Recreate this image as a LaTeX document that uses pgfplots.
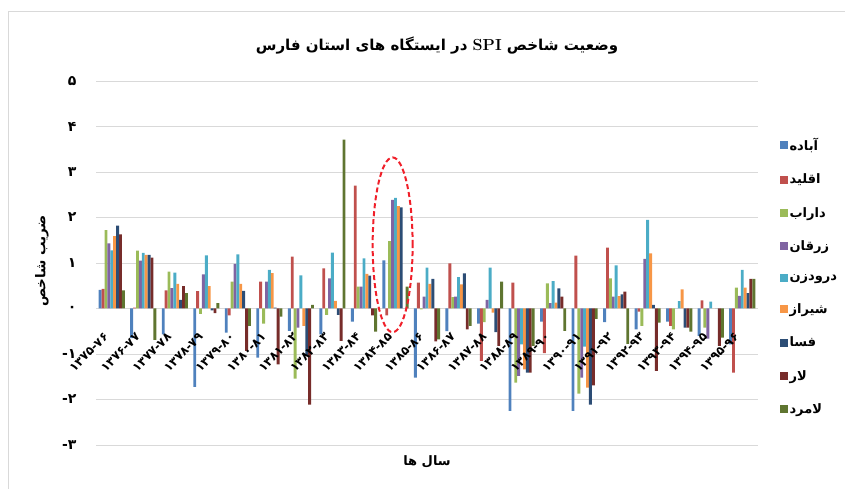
\documentclass[border=0pt]{standalone}
\usepackage{fontspec}
\usepackage{pgfplots}
\pgfplotsset{compat=1.18}
\usepackage{pgfplotstable}
\TeXXeTstate=1
\newfontfamily\arabicfont[Script=Arabic]{DejaVu Sans}
\definecolor{c1}{HTML}{4F81BD}
\definecolor{c2}{HTML}{C0504D}
\definecolor{c3}{HTML}{9BBB59}
\definecolor{c4}{HTML}{8064A2}
\definecolor{c5}{HTML}{4BACC6}
\definecolor{c6}{HTML}{F79646}
\definecolor{c7}{HTML}{2C4D75}
\definecolor{c8}{HTML}{772C2A}
\definecolor{c9}{HTML}{5F7530}
\definecolor{ellred}{HTML}{F0202A}
\pgfplotsset{
  layers/labelsontop/.define layer set={
    axis background,axis grid,axis ticks,axis lines,pre main,main,axis tick labels,axis descriptions,axis foreground
  }{/pgfplots/layers/standard},
}

\pgfplotstableread{
x a b c d e f g h i
1 0.41 0.43 1.72 1.43 1.28 1.59 1.82 1.63 0.40
2 -0.65 0.02 1.27 1.05 1.22 1.18 1.18 1.12 -0.69
3 -0.57 0.40 0.81 0.45 0.79 0.54 0.19 0.49 0.34
4 -1.72 0.38 -0.12 0.75 1.17 0.49 -0.04 -0.10 0.12
5 -0.53 -0.15 0.59 0.98 1.19 0.54 0.39 -0.93 -0.38
6 -1.08 0.59 -0.33 0.59 0.85 0.78 0.02 -1.23 -0.18
7 -0.49 1.14 -1.54 -0.42 0.73 -0.38 -1.04 -2.11 0.08
8 -0.57 0.88 -0.14 0.66 1.23 0.17 -0.14 -0.71 3.71
9 -0.29 2.70 0.48 0.48 1.10 0.76 0.72 -0.15 -0.51
10 1.06 -0.15 1.48 2.39 2.43 2.25 2.22 0.00 0.48
11 -1.52 0.57 -0.02 0.26 0.90 0.54 0.65 -0.72 -0.68
12 -0.50 0.99 0.25 0.26 0.69 0.53 0.77 -0.46 -0.38
13 -0.33 -1.15 -0.30 0.19 0.90 -0.09 -0.52 -0.82 0.59
14 -2.25 0.57 -1.63 -1.48 -0.79 -1.34 -1.41 -1.41 -0.82
15 -0.29 -0.98 0.55 0.12 0.60 0.13 0.44 0.26 -0.49
16 -2.25 1.16 -1.87 -1.52 -0.84 -1.74 -2.11 -1.69 -0.23
17 -0.30 1.34 0.66 0.26 0.95 0.27 0.31 0.37 -0.78
18 -0.46 -0.07 -0.38 1.09 1.95 1.21 0.08 -1.37 -0.31
19 -0.29 -0.38 -0.46 0.00 0.16 0.42 -0.42 -0.42 -0.51
20 -0.60 0.18 -0.42 -0.66 0.15 0.00 0.00 -0.82 -0.64
21 -0.79 -1.41 0.46 0.28 0.85 0.46 0.34 0.65 0.65
}\spi

\begin{document}
\begin{tikzpicture}
\draw[black!15, line width=1pt] (8pt,-5pt) -- (8pt,477pt) -- (850pt,477pt);
\begin{axis}[
  set layers=labelsontop,
  at={(96pt,44pt)}, anchor=south west,
  scale only axis, width=662pt, height=364pt,
  xmin=0.5, xmax=21.5, ymin=-3, ymax=5,
  ybar=0pt, bar width=2.9pt,
  axis x line*=middle, axis y line*=left,
  axis line style={draw=none},
  hide obscured x ticks=false, hide obscured y ticks=false,
  ymajorgrids, grid style={draw=black!15, line width=0.9pt},
  major tick length=0pt,
  xtick={1,...,21},
  xticklabels={{۱۳۷۵\hbox{-}۷۶},{۱۳۷۶\hbox{-}۷۷},{۱۳۷۷\hbox{-}۷۸},{۱۳۷۸\hbox{-}۷۹},{۱۳۷۹\hbox{-}۸۰},{۱۳۸۰\hbox{-}۸۱},{۱۳۸۱\hbox{-}۸۲},{۱۳۸۲\hbox{-}۸۳},{۱۳۸۳\hbox{-}۸۴},{۱۳۸۴\hbox{-}۸۵},{۱۳۸۵\hbox{-}۸۶},{۱۳۸۶\hbox{-}۸۷},{۱۳۸۷\hbox{-}۸۸},{۱۳۸۸\hbox{-}۸۹},{۱۳۸۹\hbox{-}۹۰},{۱۳۹۰\hbox{-}۹۱},{۱۳۹۱\hbox{-}۹۲},{۱۳۹۲\hbox{-}۹۳},{۱۳۹۳\hbox{-}۹۴},{۱۳۹۴\hbox{-}۹۵},{۱۳۹۵\hbox{-}۹۶}},
  xticklabel style={font=\arabicfont\bfseries\fontsize{12}{12}\selectfont, yshift=-24pt, xshift=-3pt, rotate=45, anchor=east},
  ytick={-3,...,5},
  yticklabels={{\hbox{-}۳},{\hbox{-}۲},{\hbox{-}۱},{۰},{۱},{۲},{۳},{۴},{۵}},
  yticklabel style={font=\arabicfont\bfseries\fontsize{14}{14}\selectfont, anchor=east, xshift=-16pt},
  legend style={at={(1.033,0.848)}, anchor=north west, draw=none, fill=none,
    font=\arabicfont\bfseries\fontsize{13}{13}\selectfont, row sep=19pt, inner sep=0pt,
    nodes={inner sep=1.5pt}},
  legend cell align=left,
  legend image code/.code={\fill[#1,draw=none] (0pt,-4pt) rectangle (8pt,4pt);},
]
\addplot[fill=c1, draw=none] table[x=x,y=a] {\spi};
\addplot[fill=c2, draw=none] table[x=x,y=b] {\spi};
\addplot[fill=c3, draw=none] table[x=x,y=c] {\spi};
\addplot[fill=c4, draw=none] table[x=x,y=d] {\spi};
\addplot[fill=c5, draw=none] table[x=x,y=e] {\spi};
\addplot[fill=c6, draw=none] table[x=x,y=f] {\spi};
\addplot[fill=c7, draw=none] table[x=x,y=g] {\spi};
\addplot[fill=c8, draw=none] table[x=x,y=h] {\spi};
\addplot[fill=c9, draw=none] table[x=x,y=i] {\spi};
\addlegendentry{\beginR آباده\endR}
\addlegendentry{\beginR اقلید\endR}
\addlegendentry{\beginR داراب\endR}
\addlegendentry{\beginR زرقان\endR}
\addlegendentry{\beginR درودزن\endR}
\addlegendentry{\beginR شیراز\endR}
\addlegendentry{\beginR فسا\endR}
\addlegendentry{\beginR لار\endR}
\addlegendentry{\beginR لامرد\endR}
\draw[ellred, line width=2pt, dash pattern=on 5pt off 3pt] (axis cs:9.91,1.40) ellipse [x radius=0.634, y radius=1.92];
\end{axis}
\node[font=\arabicfont\bfseries\fontsize{15}{18}\selectfont] at (437pt,443pt) {\beginR وضعیت شاخص \beginL{\normalfont\bfseries\fontsize{16}{18}\selectfont SPI}\endL{} در ایستگاه های استان فارس\endR};
\node[rotate=90, font=\arabicfont\bfseries\fontsize{13.5}{16}\selectfont] at (42pt,228pt) {\beginR ضریب شاخص\endR};
\node[font=\arabicfont\bfseries\fontsize{13}{15}\selectfont] at (427pt,27pt) {\beginR سال ها\endR};
\pgfresetboundingbox
\path (0,0) rectangle (845pt,489pt);
\end{tikzpicture}
\end{document}
